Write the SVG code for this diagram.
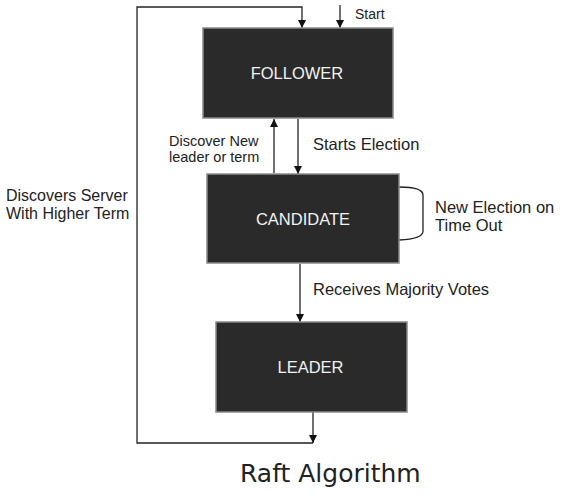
<svg xmlns="http://www.w3.org/2000/svg" width="562" height="495" viewBox="0 0 562 495">
<style>
.box{fill:#2a2a2a;stroke:#8a8a8a;stroke-width:1.5}
.bl{font-family:"Liberation Sans",Arial,sans-serif;font-size:16.5px;fill:#f2f2f2;text-anchor:middle}
.lb{font-family:"Liberation Sans",Arial,sans-serif;font-size:16.5px;fill:#222}
.ln{fill:none;stroke:#222;stroke-width:1.3}
</style>
<defs>
<marker id="ah" viewBox="0 0 10 10" refX="10" refY="5" markerWidth="8" markerHeight="8" markerUnits="userSpaceOnUse" orient="auto">
<path d="M0,0 L10,5 L0,10 Z" fill="#111"/>
</marker>
</defs>
<rect width="562" height="495" fill="#fff"/>
<g id="connectors">
<path class="ln" d="M340,5 V28" marker-end="url(#ah)"/>
<path class="ln" d="M313,443 H137 V7 H302 V28" marker-end="url(#ah)"/>
<path class="ln" d="M313,412 V443" marker-end="url(#ah)"/>
<path class="ln" d="M274,173 V119" marker-end="url(#ah)"/>
<path class="ln" d="M298,119 V174" marker-end="url(#ah)"/>
<path class="ln" d="M300,264 V322" marker-end="url(#ah)"/>
<path class="ln" d="M399,187 Q423,187 423,195 V231 Q423,239 399,240"/>
</g>
<g id="labels">
<text class="lb" x="355" y="19" style="font-size:14px">Start</text>
<text class="lb" style="font-size:14.5px"><tspan x="169" y="146">Discover New</tspan><tspan x="169" y="162">leader or term</tspan></text>
<text class="lb" x="313" y="150">Starts Election</text>
<text class="lb"><tspan x="435" y="213">New Election on</tspan><tspan x="435" y="231">Time Out</tspan></text>
<text class="lb" x="313" y="295">Receives Majority Votes</text>
<text class="lb" style="font-size:16px"><tspan x="6" y="200.5">Discovers Server</tspan><tspan x="6" y="218.5">With Higher Term</tspan></text>
<text x="240" y="482" style="font-family:'DejaVu Sans',sans-serif;font-size:25px;fill:#222">Raft Algorithm</text>
</g>
<g id="follower">
<rect class="box" x="203" y="28" width="190" height="90"/>
<text class="bl" x="297" y="79">FOLLOWER</text>
</g>
<g id="candidate">
<rect class="box" x="207" y="174" width="192" height="89"/>
<text class="bl" x="303" y="225">CANDIDATE</text>
</g>
<g id="leader">
<rect class="box" x="216" y="322" width="191" height="90"/>
<text class="bl" x="310.5" y="373">LEADER</text>
</g>
</svg>
